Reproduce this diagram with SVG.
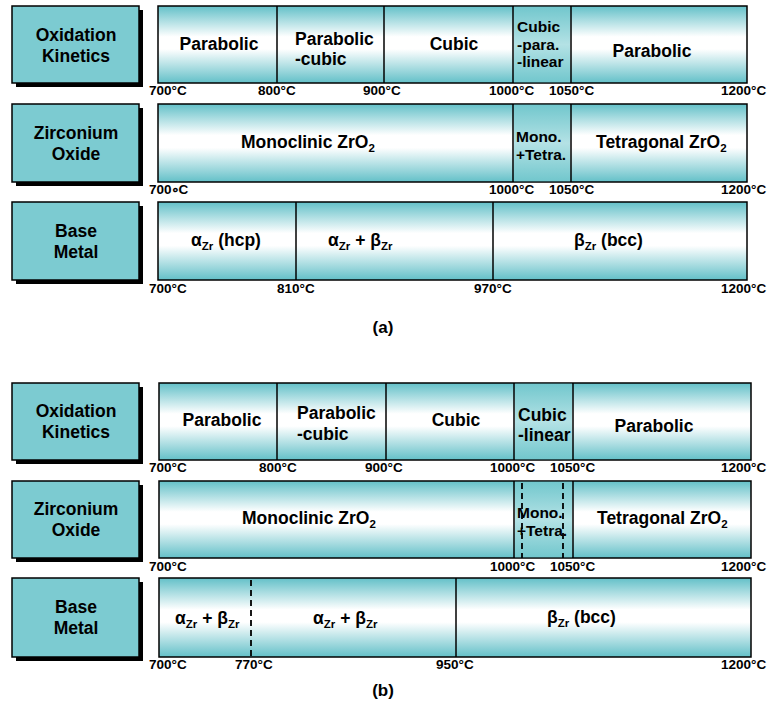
<svg xmlns="http://www.w3.org/2000/svg" width="768" height="707" viewBox="0 0 768 707">
<defs>
<linearGradient id="bar" x1="0" y1="0" x2="0" y2="1">
<stop offset="0" stop-color="#63c0c8"/>
<stop offset="0.4" stop-color="#ffffff"/>
<stop offset="0.56" stop-color="#ffffff"/>
<stop offset="1" stop-color="#63c0c8"/>
</linearGradient>
<linearGradient id="narrow" x1="0" y1="0" x2="0" y2="1">
<stop offset="0" stop-color="#72c7cd"/>
<stop offset="0.5" stop-color="#b4e2e5"/>
<stop offset="1" stop-color="#72c7cd"/>
</linearGradient>
</defs>
<style>
.lab{fill:#7ccbd1;stroke:#000;stroke-width:1.5}
.sh{fill:#000}
.bar{fill:url(#bar);stroke:#000;stroke-width:1.5}
.nar{fill:url(#narrow);stroke:none}
.div{stroke:#000;stroke-width:1.5}
.dash{stroke:#000;stroke-width:1.8;stroke-dasharray:6,4}
text{font-family:"Liberation Sans",Arial,sans-serif;font-weight:bold;fill:#000}
.t{font-size:17.5px}
.n{font-size:15.5px}
.c{text-anchor:middle}
.k{font-size:13.5px}
.s{font-size:11.5px}
.cap{font-size:17px}
</style>
<rect width="768" height="707" fill="#fff"/>

<!-- ===== (a) ===== -->
<g id="a-label-kinetics">
<rect class="sh" x="16" y="10" width="127" height="77"/>
<rect class="lab" x="12" y="6" width="127" height="77"/>
<text class="t c" x="76" y="41">Oxidation</text>
<text class="t c" x="76" y="62">Kinetics</text>
</g>
<g id="a-bar-kinetics">
<rect class="bar" x="158" y="6" width="589" height="77"/>
<rect class="nar" x="514" y="6.8" width="56" height="75.4"/>
<text class="t c" x="219" y="50">Parabolic</text>
<text class="t" x="295" y="45">Parabolic</text>
<text class="t" x="295" y="65">-cubic</text>
<text class="t c" x="454" y="50">Cubic</text>
<text class="n" x="517" y="32">Cubic</text>
<text class="n" x="517" y="49.5">-para.</text>
<text class="n" x="517" y="67">-linear</text>
<text class="t c" x="652" y="57">Parabolic</text>
</g>
<g id="a-label-oxide">
<rect class="sh" x="16" y="108" width="127" height="78"/>
<rect class="lab" x="12" y="104" width="127" height="78"/>
<text class="t c" x="76" y="139">Zirconium</text>
<text class="t c" x="76" y="160">Oxide</text>
</g>
<g id="a-bar-oxide">
<rect class="bar" x="158" y="104" width="589" height="78"/>
<rect class="nar" x="514" y="104.8" width="56" height="76.4"/>
<text class="t" x="241" y="148">Monoclinic ZrO<tspan class="s" dy="4">2</tspan></text>
<text class="n" x="516" y="142">Mono.</text>
<text class="n" x="516" y="160">+Tetra.</text>
<text class="t" x="596" y="148">Tetragonal ZrO<tspan class="s" dy="4">2</tspan></text>
</g>
<g id="a-label-metal">
<rect class="sh" x="16" y="206" width="127" height="78"/>
<rect class="lab" x="12" y="202" width="127" height="78"/>
<text class="t c" x="76" y="237">Base</text>
<text class="t c" x="76" y="258">Metal</text>
</g>
<g id="a-bar-metal">
<rect class="bar" x="158" y="202" width="589" height="78"/>
<text class="t" x="191" y="246">α<tspan class="s" dy="4">Zr</tspan><tspan dy="-4"> (hcp)</tspan></text>
<text class="t" x="328" y="246">α<tspan class="s" dy="4">Zr</tspan><tspan dy="-4"> + β</tspan><tspan class="s" dy="4">Zr</tspan></text>
<text class="t" x="574" y="246">β<tspan class="s" dy="4">Zr</tspan><tspan dy="-4"> (bcc)</tspan></text>
</g>

<!-- ===== (b) ===== -->
<g id="b-label-kinetics">
<rect class="sh" x="16" y="387" width="127" height="77"/>
<rect class="lab" x="12" y="383" width="127" height="77"/>
<text class="t c" x="76" y="417">Oxidation</text>
<text class="t c" x="76" y="438">Kinetics</text>
</g>
<g id="b-bar-kinetics">
<rect class="bar" x="159" y="383" width="592" height="77"/>
<rect class="nar" x="515" y="383.8" width="57" height="75.4"/>
<text class="t c" x="222" y="426">Parabolic</text>
<text class="t" x="297" y="419">Parabolic</text>
<text class="t" x="297" y="440">-cubic</text>
<text class="t c" x="456" y="426">Cubic</text>
<text class="t" x="518" y="421">Cubic</text>
<text class="t" x="518" y="441">-linear</text>
<text class="t c" x="654" y="432">Parabolic</text>
</g>
<g id="b-label-oxide">
<rect class="sh" x="16" y="485" width="127" height="77"/>
<rect class="lab" x="12" y="481" width="127" height="77"/>
<text class="t c" x="76" y="515">Zirconium</text>
<text class="t c" x="76" y="536">Oxide</text>
</g>
<g id="b-bar-oxide">
<rect class="bar" x="159" y="481" width="592" height="77"/>
<rect class="nar" x="515" y="481.8" width="57" height="75.4"/>
<text class="t" x="242" y="524">Monoclinic ZrO<tspan class="s" dy="4">2</tspan></text>
<text class="n" x="517" y="518">Mono.</text>
<text class="n" x="517" y="536">+Tetra.</text>
<text class="t" x="597" y="524">Tetragonal ZrO<tspan class="s" dy="4">2</tspan></text>
</g>
<g id="b-label-metal">
<rect class="sh" x="16" y="582" width="127" height="79"/>
<rect class="lab" x="12" y="578" width="127" height="79"/>
<text class="t c" x="76" y="613">Base</text>
<text class="t c" x="76" y="634">Metal</text>
</g>
<g id="b-bar-metal">
<rect class="bar" x="159" y="578" width="592" height="79"/>
<text class="t" x="175" y="624">α<tspan class="s" dy="4">Zr</tspan><tspan dy="-4"> + β</tspan><tspan class="s" dy="4">Zr</tspan></text>
<text class="t" x="313" y="624">α<tspan class="s" dy="4">Zr</tspan><tspan dy="-4"> + β</tspan><tspan class="s" dy="4">Zr</tspan></text>
<text class="t" x="547" y="623">β<tspan class="s" dy="4">Zr</tspan><tspan dy="-4"> (bcc)</tspan></text>
</g>

<g id="connectors">
<line class="div" x1="277" y1="6" x2="277" y2="83"/>
<line class="div" x1="384" y1="6" x2="384" y2="83"/>
<line class="div" x1="513" y1="6" x2="513" y2="83"/>
<line class="div" x1="571" y1="6" x2="571" y2="83"/>
<line class="div" x1="513" y1="104" x2="513" y2="182"/>
<line class="div" x1="571" y1="104" x2="571" y2="182"/>
<line class="div" x1="296" y1="202" x2="296" y2="280"/>
<line class="div" x1="493" y1="202" x2="493" y2="280"/>
<line class="div" x1="277" y1="383" x2="277" y2="460"/>
<line class="div" x1="386" y1="383" x2="386" y2="460"/>
<line class="div" x1="514" y1="383" x2="514" y2="460"/>
<line class="div" x1="573" y1="383" x2="573" y2="460"/>
<line class="div" x1="514" y1="481" x2="514" y2="558"/>
<line class="div" x1="573" y1="481" x2="573" y2="558"/>
<line class="dash" x1="522" y1="483" x2="522" y2="558"/>
<line class="dash" x1="563" y1="483" x2="563" y2="558"/>
<line class="dash" x1="251" y1="580" x2="251" y2="657"/>
<line class="div" x1="456" y1="578" x2="456" y2="657"/>
</g>

<g id="ticks">
<text class="k" x="149" y="95">700°C</text>
<text class="k" x="258" y="95">800°C</text>
<text class="k" x="363" y="95">900°C</text>
<text class="k" x="489" y="95">1000°C</text>
<text class="k" x="549" y="95">1050°C</text>
<text class="k" x="721" y="95">1200°C</text>
<text class="k" x="149" y="194">700<tspan dx="-1">∘</tspan><tspan dx="-1">C</tspan></text>
<text class="k" x="489" y="194">1000°C</text>
<text class="k" x="549" y="194">1050°C</text>
<text class="k" x="721" y="194">1200°C</text>
<text class="k" x="149" y="293">700°C</text>
<text class="k" x="277" y="293">810°C</text>
<text class="k" x="474" y="293">970°C</text>
<text class="k" x="721" y="293">1200°C</text>
<text class="cap c" x="383" y="333">(a)</text>
<text class="k" x="149" y="472">700°C</text>
<text class="k" x="259" y="472">800°C</text>
<text class="k" x="365" y="472">900°C</text>
<text class="k" x="490" y="472">1000°C</text>
<text class="k" x="550" y="472">1050°C</text>
<text class="k" x="721" y="472">1200°C</text>
<text class="k" x="149" y="571">700°C</text>
<text class="k" x="490" y="571">1000°C</text>
<text class="k" x="550" y="571">1050°C</text>
<text class="k" x="721" y="571">1200°C</text>
<text class="k" x="149" y="669">700°C</text>
<text class="k" x="235" y="669">770°C</text>
<text class="k" x="436" y="669">950°C</text>
<text class="k" x="721" y="669">1200°C</text>
<text class="cap c" x="383" y="696">(b)</text>
</g>
</svg>
